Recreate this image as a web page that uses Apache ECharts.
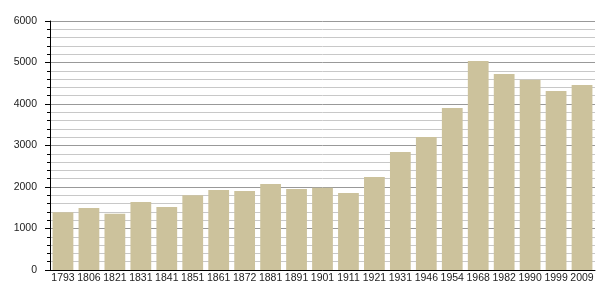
<!DOCTYPE html>
<html><head><meta charset="utf-8">
<script src="https://cdn.jsdelivr.net/npm/echarts@6/dist/echarts.min.js"></script>
<style>html,body{margin:0;padding:0;background:#fff}#c{width:605px;height:300px}</style>
</head><body><div id="c"></div>
<script>
const years = ["1793","1806","1821","1831","1841","1851","1861","1872","1881","1891","1901","1911","1921","1931","1946","1954","1968","1982","1990","1999","2009"];
const population = [1390,1494,1357,1639,1518,1800,1928,1904,2072,1952,1984,1855,2241,2843,3205,3904,5036,4723,4586,4313,4458];
const yMin = 0, yMax = 6000, yStep = 1000;

const chart = echarts.init(document.getElementById('c'), null, {renderer:'canvas'});
chart.setOption({
  animation:false,
  backgroundColor:'#fff',
  grid:{left:50,right:10,top:21,bottom:30,containLabel:false},
  xAxis:{type:'category',data:years,
    axisLine:{lineStyle:{color:'#000',width:1}},
    axisTick:{show:false},
    axisLabel:{color:'#222',fontSize:10.5,fontFamily:'Liberation Sans, Arial, sans-serif',margin:3,interval:0}},
  yAxis:{type:'value',min:yMin,max:yMax,interval:yStep,
    axisLine:{show:true,lineStyle:{color:'#000',width:1}},
    axisTick:{show:true,length:5,lineStyle:{color:'#000'}},
    minorTick:{show:true,splitNumber:5,length:3,lineStyle:{color:'#000'}},
    splitLine:{show:true,lineStyle:{color:'#999',width:1}},
    minorSplitLine:{show:true,lineStyle:{color:'#c8c8c8',width:1}},
    axisLabel:{color:'#222',fontSize:10.5,fontFamily:'Liberation Sans, Arial, sans-serif',margin:13,
      formatter:function(v){return String(v);}}},
  series:[{type:'bar',data:population,barCategoryGap:'20%',
    itemStyle:{color:'#CCC29C'}}]
});
</script></body></html>
